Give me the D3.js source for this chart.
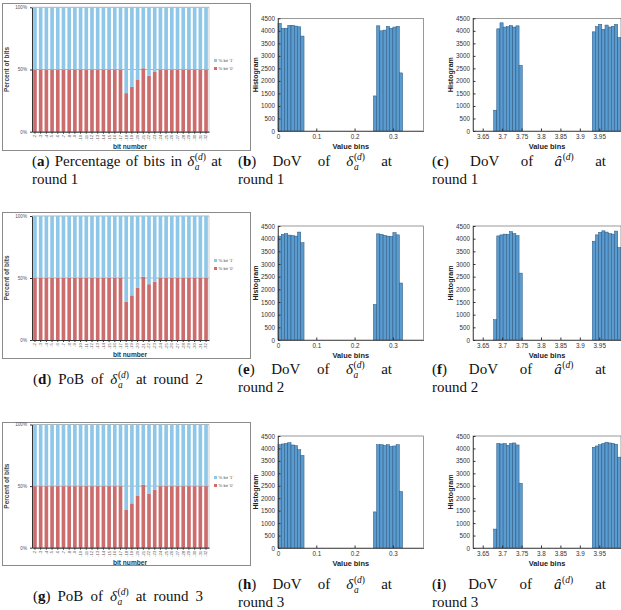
<!DOCTYPE html>
<html><head><meta charset="utf-8">
<script src="https://cdn.jsdelivr.net/npm/d3@7"></script>
<style>body{margin:0;background:#fff}svg{display:block}</style>
</head><body>
<svg id="c" width="621" height="610"></svg>
<script>
// ---------------- DATA ----------------
const bitLabels = ["-2","-3","-4","-5","-6","-7","-8","-9","-10","-11","-12","-13","-14","-15","-16","-17",
  "-18","-19","-20","-21","-22","-23","-24","-25","-26","-27","-28","-29","-30","-31","-32"];
// percent of bits equal to '0' (red part); the rest is '1' (blue part)
const pobZeroR1 = [50,50,50,50,50,50,50,50,50,50,50,50,50,50,50,50,31,36,42,51,45,48,50,50,50,50,50,50,50,50,50];
const pobZeroR2 = [50,50,50,50,50,50,50,50,50,50,50,50,50,50,50,50,31,36,42,51,45,47,50,50,50,50,50,50,50,50,50];
const pobZeroR3 = [50,50,50,50,50,50,50,50,50,50,50,50,50,50,50,50,31,36,42,51,44,47,50,50,50,50,50,50,50,50,50];
const pobTicks = [0,50,100];
const pobTickLabels = ["0%","50%","100%"];

// DoV of delta (histogram counts), two clusters of bins
const deltaBinWidth = 0.0085;
const deltaLeftStart = 0;
const deltaRightStart = 0.249;
const deltaLeftR1  = [4300,4100,4100,4220,4220,4190,4160,3790];
const deltaRightR1 = [1400,4200,4000,4030,4180,4100,4150,4180,2320];
const deltaLeftR2  = [4100,4170,4200,4140,4120,4100,4260,3840];
const deltaRightR2 = [1400,4190,4170,4130,4100,4090,4240,4150,2250];
const deltaLeftR3  = [4150,4180,4200,4230,4140,4110,3950,3720];
const deltaRightR3 = [1450,4150,4150,4120,4150,4080,4100,4150,2270];
const deltaXTicks = [0,0.1,0.2,0.3];
const deltaXTickLabels = ["0","0.1","0.2","0.3"];

// DoV of a-hat
const ahatBinWidth = 0.0082;
const ahatLeftStart = 3.678;
const ahatRightStart = 3.932;
const ahatLeftR1  = [830,4080,4320,4150,4170,4210,4150,4200,2620];
const ahatRightR1 = [3960,4170,4260,4060,4230,4150,4180,4260,3730];
const ahatLeftR2  = [800,4110,4150,4180,4170,4280,4200,4120,2640];
const ahatRightR2 = [3900,4150,4250,4310,4260,4200,4180,4300,3650];
const ahatLeftR3  = [760,4200,4180,4200,4130,4200,4220,4140,2600];
const ahatRightR3 = [4050,4100,4150,4200,4250,4220,4200,4170,3650];
const ahatXTicks = [3.65,3.7,3.75,3.8,3.85,3.9,3.95];
const ahatXTickLabels = ["3.65","3.7","3.75","3.8","3.85","3.9","3.95"];

const histYTicks = [0,500,1000,1500,2000,2500,3000,3500,4000,4500];

// ---------------- DRAW ----------------
const svg = d3.select("#c");
const SANS = "'Liberation Sans', Arial, sans-serif";
const SERIF = "'Liberation Serif', 'Times New Roman', serif";
const BLUE = "#8ec7e8", RED = "#cc6c6c";
const AX = "#333";

function pobPanel(cfg) {
  const g = svg.append("g");
  g.append("rect").attr("x", cfg.box[0]+0.5).attr("y", cfg.box[1]+0.5)
    .attr("width", cfg.box[2]-cfg.box[0]).attr("height", cfg.box[3]-cfg.box[1])
    .attr("fill", "none").attr("stroke", "#8a8a8a").attr("stroke-width", 1);
  const x = d3.scaleBand().domain(bitLabels).range([32, 209]).paddingInner(0.36).paddingOuter(0.2);
  const y = d3.scaleLinear().domain([0,100]).range([cfg.bottom, cfg.top]);
  g.append("line").attr("x1",32).attr("x2",209).attr("y1",y(50)).attr("y2",y(50)).attr("stroke","#a0a0a0").attr("stroke-width",0.8);
  g.append("line").attr("x1",32).attr("x2",209).attr("y1",y(100)).attr("y2",y(100)).attr("stroke","#a0a0a0").attr("stroke-width",0.8);
  g.append("line").attr("x1",209).attr("x2",209).attr("y1",y(100)).attr("y2",y(0)).attr("stroke","#b0b0b0").attr("stroke-width",0.6);
  const data = bitLabels.map((b,i)=>({b, v:cfg.data[i]}));
  g.selectAll(".r").data(data).join("rect")
    .attr("x", d=>x(d.b)).attr("width", x.bandwidth())
    .attr("y", d=>y(d.v)).attr("height", d=>y(0)-y(d.v)).attr("fill", RED);
  g.selectAll(".bl").data(data).join("rect")
    .attr("x", d=>x(d.b)).attr("width", x.bandwidth())
    .attr("y", y(100)).attr("height", d=>y(d.v)-y(100)).attr("fill", BLUE);
  const ya = g.append("g").attr("transform","translate(32,0)")
    .call(d3.axisLeft(y).tickValues(pobTicks).tickFormat((d,i)=>pobTickLabels[i]).tickSize(2).tickSizeOuter(0));
  ya.selectAll("text").attr("font-size",4.6).attr("font-family",SANS).attr("fill","#555");
  ya.select(".domain").attr("stroke",AX).attr("stroke-width",1);
  ya.selectAll(".tick line").attr("stroke",AX);
  const xa = g.append("g").attr("transform",`translate(0,${y(0)})`)
    .call(d3.axisBottom(x).tickSize(2).tickSizeOuter(0));
  xa.select(".domain").attr("stroke",AX).attr("stroke-width",1.2);
  xa.selectAll(".tick line").attr("stroke",AX);
  xa.selectAll("text").attr("font-size",4.4).attr("font-family",SANS).attr("fill","#666")
    .attr("transform","rotate(-90)").attr("text-anchor","end").attr("dy","0.32em").attr("x",-3).attr("y",0);
  g.append("text").attr("transform",`translate(9,${(cfg.top+cfg.bottom)/2}) rotate(-90)`)
    .attr("text-anchor","middle").attr("font-family",SANS).attr("font-weight","bold")
    .attr("font-size",6.5).attr("fill","#444").text("Percent of bits");
  g.append("text").attr("x",130).attr("y",cfg.bottom+17).attr("text-anchor","middle")
    .attr("font-family",SANS).attr("font-weight","bold").attr("font-size",6.6).attr("fill","#333").text("bit number");
  [["% bit '1'",BLUE,0],["% bit '0'",RED,8]].forEach(([t,c,dy])=>{
    g.append("rect").attr("x",214).attr("y",cfg.legY+dy-3).attr("width",3).attr("height",3).attr("fill",c);
    g.append("text").attr("x",218.5).attr("y",cfg.legY+dy).attr("font-family",SANS)
      .attr("font-size",4.3).attr("fill","#555").text(t);
  });
}

function histPanel(cfg) {
  const g = svg.append("g");
  const x = d3.scaleLinear().domain(cfg.domain).range([cfg.x0, cfg.x1]);
  const y = d3.scaleLinear().domain([0,4500]).range([cfg.bottom, cfg.top]);
  const bins = [];
  cfg.left.forEach((v,i)=>bins.push({a:cfg.leftStart+i*cfg.w, b:cfg.leftStart+(i+1)*cfg.w, v}));
  cfg.right.forEach((v,i)=>bins.push({a:cfg.rightStart+i*cfg.w, b:cfg.rightStart+(i+1)*cfg.w, v}));
  g.selectAll("rect.bar").data(bins).join("rect").attr("class","bar")
    .attr("x", d=>x(d.a)).attr("width", d=>x(d.b)-x(d.a))
    .attr("y", d=>y(d.v)).attr("height", d=>y(0)-y(d.v))
    .attr("fill","#5a9bd0").attr("stroke","#28547c").attr("stroke-width",0.5);
  g.append("rect").attr("x",cfg.x0).attr("y",cfg.top).attr("width",cfg.x1-cfg.x0).attr("height",cfg.bottom-cfg.top)
    .attr("fill","none").attr("stroke","#555").attr("stroke-width",0.6);
  const ya = g.append("g").attr("transform",`translate(${cfg.x0},0)`)
    .call(d3.axisLeft(y).tickValues(histYTicks).tickFormat(d3.format("d")).tickSize(-2.5).tickSizeOuter(0).tickPadding(3));
  ya.select(".domain").attr("stroke","#333").attr("stroke-width",0.7);
  ya.selectAll(".tick line").attr("stroke","#333");
  ya.selectAll("text").attr("font-size",6.3).attr("font-family",SANS).attr("fill","#333");
  const xa = g.append("g").attr("transform",`translate(0,${cfg.bottom})`)
    .call(d3.axisBottom(x).tickValues(cfg.ticks).tickFormat((d,i)=>cfg.tickLabels[i]).tickSize(-2.5).tickSizeOuter(0).tickPadding(3.5));
  xa.select(".domain").attr("stroke","#333").attr("stroke-width",0.7);
  xa.selectAll(".tick line").attr("stroke","#333");
  xa.selectAll("text").attr("font-size",6.3).attr("font-family",SANS).attr("fill","#333");
  g.append("text").attr("transform",`translate(${cfg.x0-20},${(cfg.top+cfg.bottom)/2}) rotate(-90)`)
    .attr("text-anchor","middle").attr("font-family",SANS).attr("font-weight","bold")
    .attr("font-size",7.1).attr("fill","#222").text("Histogram");
  g.append("text").attr("x",(cfg.x0+Math.min(cfg.x1,621))/2).attr("y",cfg.bottom+17.5).attr("text-anchor","middle")
    .attr("font-family",SANS).attr("font-weight","bold").attr("font-size",7.4).attr("fill","#222").text("Value bins");
}

// ---- caption helpers ----
const FS = 15;
function supD(tg, x, y) {
  const t = tg.append("text").attr("x",x).attr("y",y).attr("font-size",9.5);
  t.append("tspan").text("(");
  t.append("tspan").attr("font-style","italic").text("d");
  t.append("tspan").text(")");
  return t.node().getComputedTextLength();
}
function mkToken(parent, tok) {
  const tg = parent.append("g");
  if (tok === "DELTA") {
    const t = tg.append("text").attr("font-style","italic").attr("font-size",FS).text("δ");
    const w0 = t.node().getComputedTextLength();
    const w1 = supD(tg, w0+0.6, -6);
    const s2 = tg.append("text").attr("x",w0+0.6).attr("y",4).attr("font-size",9.5).attr("font-style","italic").text("a");
    return {g:tg, w: w0+0.6+Math.max(w1, s2.node().getComputedTextLength())};
  }
  if (tok === "AHAT") {
    const t = tg.append("text").attr("font-style","italic").attr("font-size",FS).text("â");
    const w0 = t.node().getComputedTextLength();
    const w1 = supD(tg, w0+0.6, -6);
    return {g:tg, w: w0+0.6+w1};
  }
  const t = tg.append("text").attr("font-size",FS);
  const m = tok.match(/^\((\w)\)$/);
  if (m) {
    t.append("tspan").text("(");
    t.append("tspan").attr("font-weight","bold").text(m[1]);
    t.append("tspan").text(")");
  } else t.text(tok);
  return {g:tg, w:t.node().getComputedTextLength()};
}
function caption(x0, x1, baseline, tokens, justify) {
  const g = svg.append("g").attr("font-family",SERIF).attr("fill","#111");
  const items = tokens.map(t=>mkToken(g,t));
  const total = d3.sum(items, d=>d.w);
  const gap = justify ? (x1-x0-total)/(items.length-1) : 3.75;
  let cx = x0;
  items.forEach(it=>{ it.g.attr("transform",`translate(${cx},${baseline})`); cx += it.w + gap; });
}

// ---------------- PANELS ----------------
const rows = [
  {pob:{box:[2,3,250,150], top:7.3, bottom:131.7, legY:62, data:pobZeroR1},
   htop:18.3, hbot:131, dl:deltaLeftR1, dr:deltaRightR1, al:ahatLeftR1, ar:ahatRightR1},
  {pob:{box:[2,212,250,358], top:216, bottom:340, legY:262, data:pobZeroR2},
   htop:226, hbot:340, dl:deltaLeftR2, dr:deltaRightR2, al:ahatLeftR2, ar:ahatRightR2},
  {pob:{box:[2,422,250,565], top:424.5, bottom:547.7, legY:479, data:pobZeroR3},
   htop:436, hbot:548, dl:deltaLeftR3, dr:deltaRightR3, al:ahatLeftR3, ar:ahatRightR3}
];
rows.forEach(r=>{
  pobPanel(r.pob);
  histPanel({x0:278, x1:423.5, domain:[0,0.38], top:r.htop, bottom:r.hbot, w:deltaBinWidth,
    leftStart:deltaLeftStart, rightStart:deltaRightStart, left:r.dl, right:r.dr,
    ticks:deltaXTicks, tickLabels:deltaXTickLabels});
  histPanel({x0:473, x1:621, domain:[3.625,4.006], top:r.htop, bottom:r.hbot, w:ahatBinWidth,
    leftStart:ahatLeftStart, rightStart:ahatRightStart, left:r.al, right:r.ar,
    ticks:ahatXTicks, tickLabels:ahatXTickLabels});
});

caption(32, 222, 166, ["(a)","Percentage","of","bits","in","DELTA","at"], true);
caption(32, 222, 184, ["round","1"], false);
caption(238, 392, 166, ["(b)","DoV","of","DELTA","at"], true);
caption(238, 392, 184, ["round","1"], false);
caption(432, 606, 166, ["(c)","DoV","of","AHAT","at"], true);
caption(432, 606, 184, ["round","1"], false);

caption(33, 203, 384, ["(d)","PoB","of","DELTA","at","round","2"], true);
caption(238, 392, 374, ["(e)","DoV","of","DELTA","at"], true);
caption(238, 392, 392, ["round","2"], false);
caption(432, 606, 374, ["(f)","DoV","of","AHAT","at"], true);
caption(432, 606, 392, ["round","2"], false);

caption(33, 203, 601, ["(g)","PoB","of","DELTA","at","round","3"], true);
caption(238, 392, 589, ["(h)","DoV","of","DELTA","at"], true);
caption(238, 392, 607, ["round","3"], false);
caption(432, 606, 589, ["(i)","DoV","of","AHAT","at"], true);
caption(432, 606, 607, ["round","3"], false);
</script>
</body></html>
